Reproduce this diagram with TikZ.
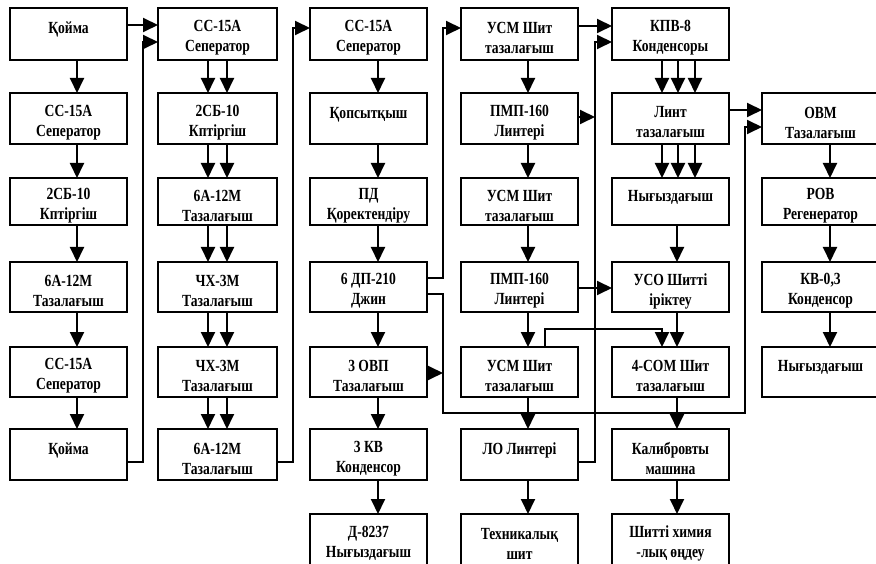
\documentclass[tikz,border=0pt]{standalone}
\usepackage{fontspec}
\setmainfont{Liberation Serif}[FakeStretch=0.8]
\usetikzlibrary{arrows.meta}
\tikzset{
  box/.style={draw, line width=1.9pt, minimum width=117pt, inner sep=0pt, outer sep=0pt,
    anchor=north west},
  txt/.style={align=center, inner sep=0pt, yshift=-4pt,
    font=\bfseries\fontsize{17pt}{20pt}\selectfont},
  hA/.style={minimum height=52pt},
  hB/.style={minimum height=51pt},
  hC/.style={minimum height=47pt},
  hD/.style={minimum height=50pt},
  arr/.style={line width=1.9pt, -{Triangle[length=15pt,width=14pt]}},
}
\newcommand\vconn[3]{\draw[arr] (#1.south -| #3,0) -- (#2.north -| #3,0);}
\newcommand\bx[5]{\node[box,#2,label={[txt]center:{#5}}] (#1) at (#3,#4) {};}
\begin{document}
\begin{tikzpicture}[x=1pt,y=-1pt]
\useasboundingbox (0,0) rectangle (876,564);
\clip (0,0) rectangle (876,564);
% column 1
\bx{a1}{hA}{10}{8}{Қойма\\~}
\bx{a2}{hB}{10}{93}{СС-15А\\Сеператор}
\bx{a3}{hC}{10}{178}{2СБ-10\\Кптіргіш}
\bx{a4}{hD}{10}{262}{6А-12М\\Тазалағыш}
\bx{a5}{hD}{10}{347}{СС-15А\\Сеператор}
\bx{a6}{hB}{10}{429}{Қойма\\~}
% column 2
\bx{b1}{hA,minimum width=119pt}{158}{8}{СС-15А\\Сеператор}
\bx{b2}{hB,minimum width=119pt}{158}{93}{2СБ-10\\Кптіргіш}
\bx{b3}{hC,minimum width=119pt}{158}{178}{6А-12М\\Тазалағыш}
\bx{b4}{hD,minimum width=119pt}{158}{262}{ЧХ-3М\\Тазалағыш}
\bx{b5}{hD,minimum width=119pt}{158}{347}{ЧХ-3М\\Тазалағыш}
\bx{b6}{hB,minimum width=119pt}{158}{429}{6А-12М\\Тазалағыш}
% column 3
\bx{c1}{hA}{310}{8}{СС-15А\\Сеператор}
\bx{c2}{hB}{310}{93}{Қопсытқыш\\~}
\bx{c3}{hC}{310}{178}{ПД\\Қоректендіру}
\bx{c4}{hD}{310}{262}{6 ДП-210\\Джин}
\bx{c5}{hD}{310}{347}{3 ОВП\\Тазалағыш}
\bx{c6}{hB}{310}{429}{3 КВ\\Конденсор}
\bx{c7}{hB}{310}{514}{Д-8237\\Нығыздағыш}
% column 4
\bx{d1}{hA}{461}{8}{УСМ Шит\\тазалағыш}
\bx{d2}{hB}{461}{93}{ПМП-160\\Линтері}
\bx{d3}{hC}{461}{178}{УСМ Шит\\тазалағыш}
\bx{d4}{hD}{461}{262}{ПМП-160\\Линтері}
\bx{d5}{hD}{461}{347}{УСМ Шит\\тазалағыш}
\bx{d6}{hB}{461}{429}{ЛО Линтері\\~}
\bx{d7}{hB}{461}{514}{Техникалық\\шит}
% column 5
\bx{e1}{hA}{612}{8}{КПВ-8\\Конденсоры}
\bx{e2}{hB}{612}{93}{Линт\\тазалағыш}
\bx{e3}{hC}{612}{178}{Нығыздағыш\\~}
\bx{e4}{hD}{612}{262}{УСО Шитті\\іріктеу}
\bx{e5}{hD}{612}{347}{4-СОМ Шит\\тазалағыш}
\bx{e6}{hB}{612}{429}{Калибровты\\машина}
\bx{e7}{hB}{612}{514}{Шитті химия\\-лық өңдеу}
% column 6
\bx{f2}{hB}{762}{93}{ОВМ\\Тазалағыш}
\bx{f3}{hC}{762}{178}{РОВ\\Регенератор}
\bx{f4}{hD}{762}{262}{КВ-0,3\\Конденсор}
\bx{f5}{hD}{762}{347}{Нығыздағыш\\~}
% vertical arrows
\vconn{a1}{a2}{77}\vconn{a2}{a3}{77}\vconn{a3}{a4}{77}\vconn{a4}{a5}{77}\vconn{a5}{a6}{77}
\foreach \u/\v in {b1/b2,b2/b3,b3/b4,b4/b5,b5/b6}{\vconn{\u}{\v}{208}\vconn{\u}{\v}{227}}
\foreach \u/\v in {c1/c2,c2/c3,c3/c4,c4/c5,c5/c6,c6/c7}{\vconn{\u}{\v}{378}}
\foreach \u/\v in {d1/d2,d2/d3,d3/d4,d4/d5,d5/d6,d6/d7}{\vconn{\u}{\v}{528}}
\foreach \u/\v in {e1/e2,e2/e3}{\vconn{\u}{\v}{662}\vconn{\u}{\v}{678}\vconn{\u}{\v}{695}}
\foreach \u/\v in {e3/e4,e4/e5,e5/e6,e6/e7}{\vconn{\u}{\v}{677}}
\foreach \u/\v in {f2/f3,f3/f4,f4/f5}{\vconn{\u}{\v}{830}}
% horizontal and routed connectors
\coordinate (j1) at (443,413);
\coordinate (j2) at (745,413);
\draw[arr] (a1.east |- 0,25) -- (b1.west |- 0,25);
\draw[arr] (a6.east |- 0,462) -| (143,42) -- (b1.west |- 0,42);
\draw[arr] (b6.east |- 0,462) -| (293,28) -- (c1.west |- 0,28);
\draw[arr] (c4.east |- 0,278) -| (443,28) -- (d1.west |- 0,28);
\draw[arr] (c4.east |- 0,294) -| (j1) -- (j2) |- (f2.west |- 0,127);
\draw[arr] (c5.east |- 0,373) -- (j1 |- 0,373);
\draw[arr] (d1.east |- 0,26) -- (e1.west |- 0,26);
\draw[arr] (d6.east |- 0,462) -| (595,42) -- (e1.west |- 0,42);
\draw[arr] (d2.east |- 0,117) -- (595,117);
\draw[arr] (d4.east |- 0,288) -- (e4.west |- 0,288);
\draw[arr] (d5.north -| 545,0) -- (545,329) -| (e5.north -| 662,0);
\draw[arr] (e2.east |- 0,110) -- (f2.west |- 0,110);
\end{tikzpicture}
\end{document}
